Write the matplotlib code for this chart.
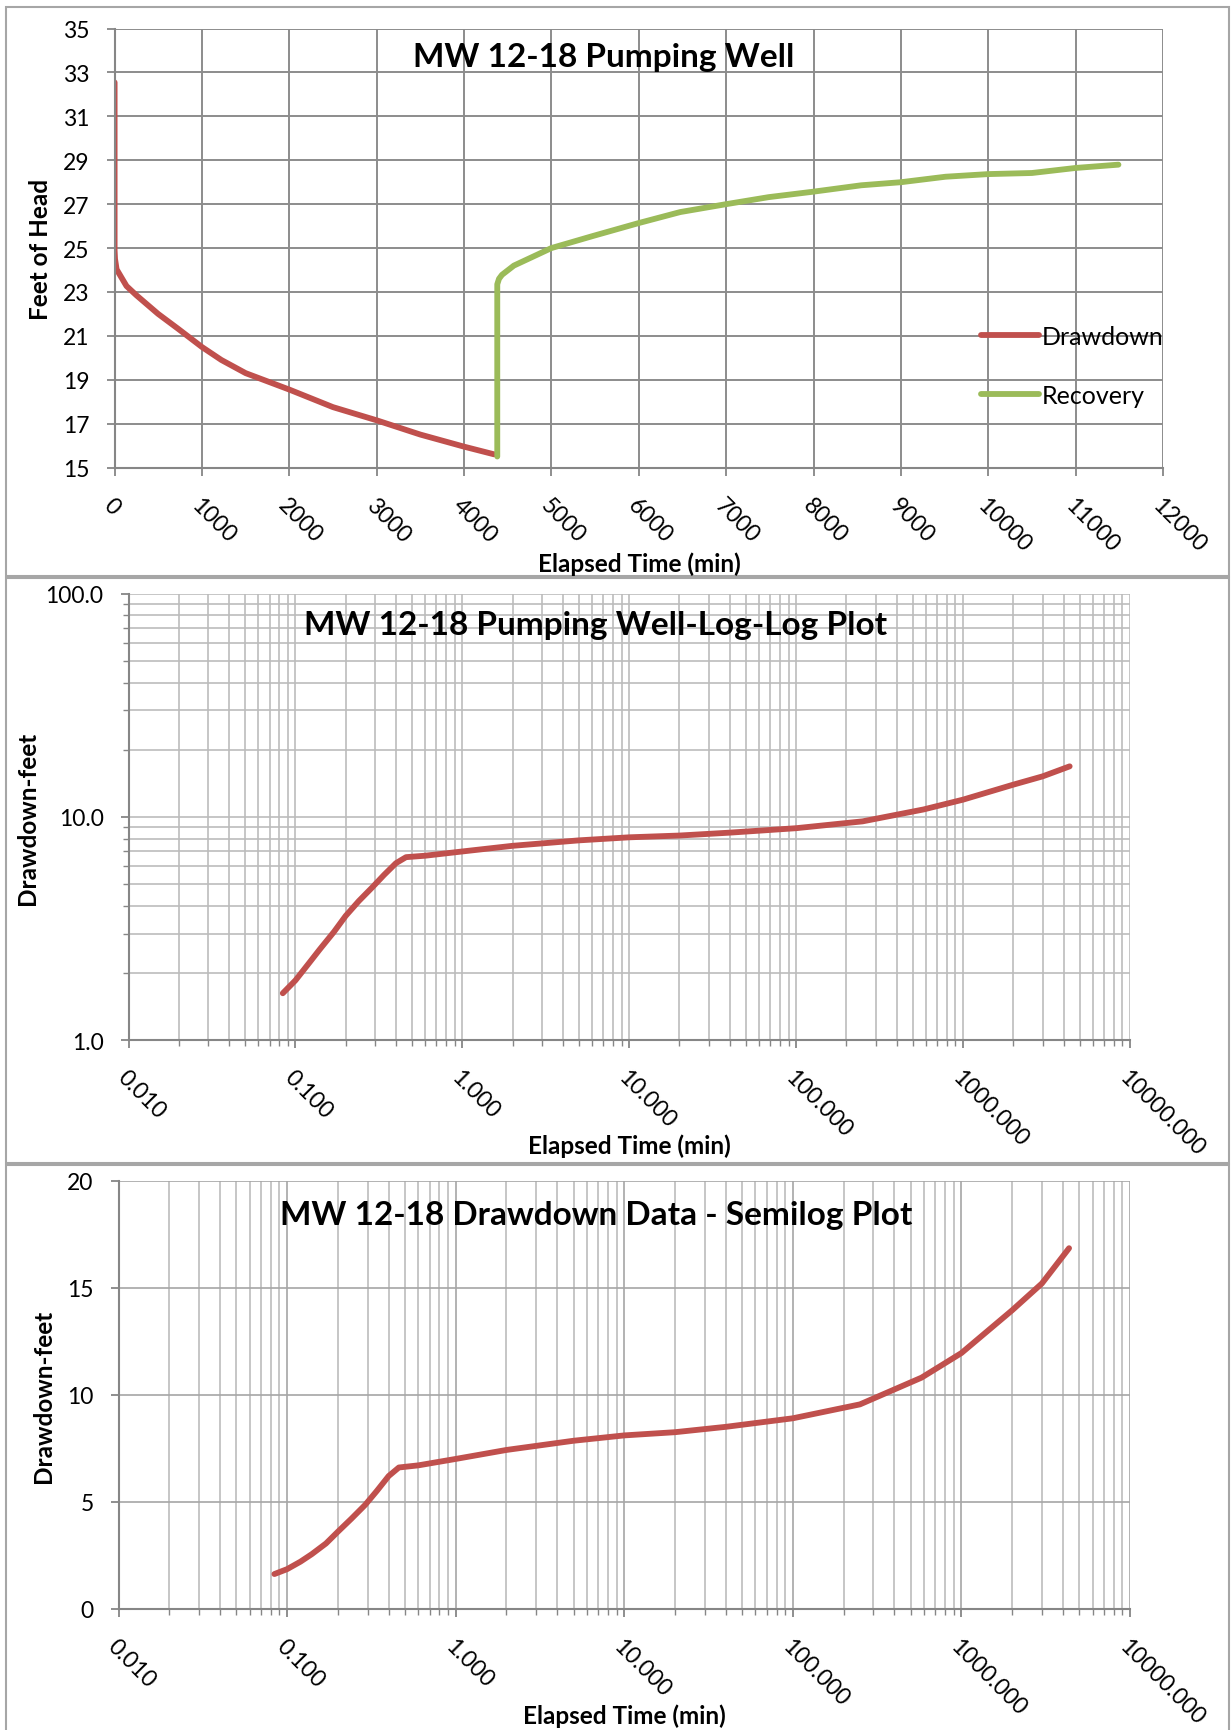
import numpy as np
import matplotlib
matplotlib.use("Agg")
import matplotlib.pyplot as plt
from matplotlib.patches import Rectangle
from matplotlib.ticker import FixedLocator, FixedFormatter, LogLocator, NullFormatter

plt.rcParams['font.family'] = ['Lato', 'DejaVu Sans']

# top panel: head vs elapsed time
dd_time = [0, 0, 5, 23, 136, 249, 498, 724, 1000, 1222, 1500, 2000, 2500, 3000, 3500, 4000, 4344]
dd_head = [32.55, 24.9, 24.5, 24.03, 23.27, 22.85, 22.0, 21.33, 20.49, 19.9, 19.3, 18.55, 17.75, 17.15, 16.5, 15.95, 15.6]
rec_time = [4380, 4380, 4400, 4434, 4570, 5000, 5475, 6000, 6474, 7000, 7487, 8000, 8546, 9000, 9511, 10000, 10500, 11000, 11490]
rec_head = [15.5, 23.35, 23.6, 23.78, 24.2, 25.0, 25.55, 26.14, 26.64, 27.0, 27.32, 27.57, 27.86, 28.0, 28.25, 28.37, 28.42, 28.65, 28.8]

# drawdown (feet) vs elapsed time (min) for the log plots
log_time = [0.084, 0.10, 0.12, 0.14, 0.17, 0.20, 0.24, 0.29, 0.34, 0.40, 0.46, 0.60, 1.0, 2.0,
            5.0, 10, 20, 40, 100, 250, 580, 1000, 2000, 3000, 4350]
drawdown = [1.62, 1.85, 2.2, 2.55, 3.05, 3.6, 4.2, 4.85, 5.5, 6.2, 6.6, 6.7, 7.0, 7.42,
            7.85, 8.1, 8.25, 8.5, 8.9, 9.55, 10.8, 11.95, 13.95, 15.2, 16.85]

x_log_ticks = [0.01, 0.1, 1, 10, 100, 1000, 10000]
x_log_labels = ['0.010', '0.100', '1.000', '10.000', '100.000', '1000.000', '10000.000']
y_log_ticks = [1, 10, 100]
y_log_labels = ['1.0', '10.0', '100.0']

RED = '#C0504D'
GREEN = '#9BBB59'
AXC = '#868686'
W, H = 1231, 1731
TICK_FS = 16.5
LAB_FS = 17.5
TITLE_FS = 24

fig = plt.figure(figsize=(W / 100, H / 100), dpi=100)


def rect(l, t, r, b):
    return [l / W, 1 - b / H, (r - l) / W, (b - t) / H]


# panel outlines
for t, b in [(8, 577), (579, 1164), (1166, 1735)]:
    fig.patches.append(Rectangle((6 / W, 1 - b / H), 1223 / W, (b - t) / H,
                                 transform=fig.transFigure, fill=False,
                                 edgecolor='#a6a6a6', lw=1.5))


def style(ax, gridc, gridlw):
    for s in ['top', 'right']:
        ax.spines[s].set_visible(False)
    for s in ['left', 'bottom']:
        ax.spines[s].set_color(AXC)
        ax.spines[s].set_linewidth(1.5)
    ax.tick_params(which='major', direction='out', length=6, width=1.3, color=AXC,
                   labelsize=TICK_FS, pad=4)
    ax.tick_params(which='minor', direction='out', length=4, width=1.0, color=AXC)
    ax.tick_params(axis='y', pad=12)
    ax.grid(True, which='major', color=gridc, lw=gridlw)
    ax.set_axisbelow(True)


def rot_labels(ax, pad):
    ax.tick_params(axis='x', pad=pad)
    for lab in ax.get_xticklabels():
        lab.set_rotation(-45)
        lab.set_ha('left')
        lab.set_va('top')
        lab.set_rotation_mode('anchor')


# ---- panel 1 ----
ax1 = fig.add_axes(rect(114.6, 29.6, 1163, 468.5))
style(ax1, '#8c8c8c', 1.4)
ax1.plot(dd_time, dd_head, color=RED, lw=4.2, label='Drawdown', solid_capstyle='round')
ax1.plot(rec_time, rec_head, color=GREEN, lw=4.2, label='Recovery', solid_capstyle='round')
ax1.set_xlim(0, 12000)
ax1.set_ylim(15, 35)
ax1.set_xticks(np.arange(0, 12001, 1000))
ax1.set_yticks(np.arange(15, 36, 2))
rot_labels(ax1, 13)
ax1.legend(loc='center right', bbox_to_anchor=(1.012, 0.232), frameon=False,
           fontsize=18, handlelength=2.3, handletextpad=0.1, labelspacing=1.45,
           borderpad=0)
fig.text(41 / W, 1 - 249 / H, 'Feet of Head', rotation=90, ha='center', va='center',
         fontsize=LAB_FS, fontweight='bold')
fig.text(639 / W, 1 - 564 / H, 'Elapsed Time (min)', ha='center', va='center',
         fontsize=LAB_FS, fontweight='bold')
fig.text(604 / W, 1 - 57 / H, 'MW 12-18 Pumping Well', ha='center', va='center',
         fontsize=TITLE_FS, fontweight='bold')

# ---- panel 2 ----
ax2 = fig.add_axes(rect(128.5, 594.8, 1130, 1041))
style(ax2, '#bcbcbc', 1.2)
ax2.set_xscale('log')
ax2.set_yscale('log')
ax2.grid(True, which='minor', color='#bcbcbc', lw=1.2)
ax2.plot(log_time, drawdown, color=RED, lw=4.2, solid_capstyle='round')
ax2.set_xlim(0.01, 10000)
ax2.set_ylim(1, 100)
ax2.xaxis.set_major_locator(FixedLocator(x_log_ticks))
ax2.xaxis.set_major_formatter(FixedFormatter(x_log_labels))
ax2.xaxis.set_minor_locator(LogLocator(base=10, subs=np.arange(2, 10), numticks=20))
ax2.xaxis.set_minor_formatter(NullFormatter())
ax2.yaxis.set_major_locator(FixedLocator(y_log_ticks))
ax2.yaxis.set_major_formatter(FixedFormatter(y_log_labels))
ax2.yaxis.set_minor_locator(LogLocator(base=10, subs=np.arange(2, 10), numticks=20))
ax2.yaxis.set_minor_formatter(NullFormatter())
rot_labels(ax2, 13)
fig.text(28 / W, 1 - 818 / H, 'Drawdown-feet', rotation=90, ha='center', va='center',
         fontsize=LAB_FS, fontweight='bold')
fig.text(629 / W, 1 - 1146 / H, 'Elapsed Time (min)', ha='center', va='center',
         fontsize=LAB_FS, fontweight='bold')
fig.text(596 / W, 1 - 626 / H, 'MW 12-18 Pumping Well-Log-Log Plot', ha='center',
         va='center', fontsize=TITLE_FS, fontweight='bold')

# ---- panel 3 ----
ax3 = fig.add_axes(rect(118.6, 1181.8, 1130, 1609.7))
style(ax3, '#a6a6a6', 1.2)
ax3.set_xscale('log')
ax3.grid(True, which='minor', axis='x', color='#bcbcbc', lw=1.2)
ax3.plot(log_time, drawdown, color=RED, lw=4.2, solid_capstyle='round')
ax3.set_xlim(0.01, 10000)
ax3.set_ylim(0, 20)
ax3.set_yticks([0, 5, 10, 15, 20])
ax3.xaxis.set_major_locator(FixedLocator(x_log_ticks))
ax3.xaxis.set_major_formatter(FixedFormatter(x_log_labels))
ax3.xaxis.set_minor_locator(LogLocator(base=10, subs=np.arange(2, 10), numticks=20))
ax3.xaxis.set_minor_formatter(NullFormatter())
rot_labels(ax3, 13)
fig.text(44 / W, 1 - 1396 / H, 'Drawdown-feet', rotation=90, ha='center', va='center',
         fontsize=LAB_FS, fontweight='bold')
fig.text(624 / W, 1 - 1716 / H, 'Elapsed Time (min)', ha='center', va='center',
         fontsize=LAB_FS, fontweight='bold')
fig.text(596 / W, 1 - 1216 / H, 'MW 12-18 Drawdown Data - Semilog Plot', ha='center',
         va='center', fontsize=TITLE_FS, fontweight='bold')

fig.savefig('out.png', dpi=100)
